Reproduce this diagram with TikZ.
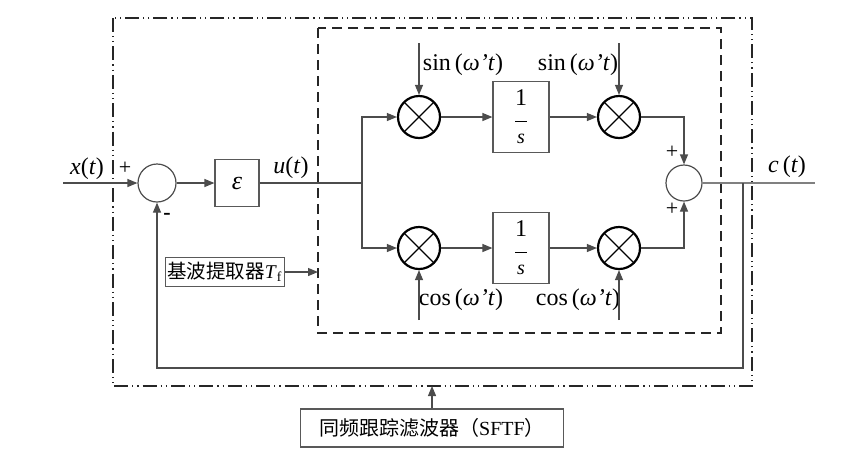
\documentclass[tikz,border=0pt]{standalone}
\usepackage{fontspec}
\setmainfont{Liberation Serif}
\newfontfamily\cjk{Noto Sans CJK SC}
\usetikzlibrary{arrows.meta,positioning}

\newcommand{\invs}{\fontsize{12}{12}\selectfont 1\\[-4pt]\rule{6pt}{0.5pt}\\[-1pt]\textit{s}}

\tikzset{
  wire/.style={draw=black!70, line width=0.6pt},
  sumnode/.style={circle, draw=black!70, line width=0.6pt, minimum size=19pt, inner sep=0pt},
  mult/.style={circle, draw=black, line width=1.1pt, minimum size=21pt, inner sep=0pt,
    path picture={\draw[line width=0.6pt]
      (path picture bounding box.north west) -- (path picture bounding box.south east)
      (path picture bounding box.north east) -- (path picture bounding box.south west);}},
  blk/.style={rectangle, draw=black!65, line width=0.6pt, inner sep=0pt},
  intblk/.style={blk, align=center, minimum width=28pt, minimum height=35.5pt},
  lbl/.style={font=\fontsize{12}{12}\selectfont, inner sep=0pt},
  sgn/.style={font=\fontsize{11}{11}\selectfont, inner sep=0pt},
}

\begin{document}
\begin{tikzpicture}[x=0.5pt,y=-0.5pt,>={Triangle[length=5pt,width=4pt]}]
      \useasboundingbox (0,0) rectangle (854,456);
      % frames
      \draw[black!85, line width=0.8pt, dash pattern=on 7pt off 2pt on 0.6pt off 2pt on 0.6pt off 2pt]
        (113,18) rectangle (752,386);
      \draw[black!85, line width=0.8pt, dash pattern=on 5pt off 3pt] (318,28) rectangle (721,333);
      % blocks
      \node (sum1) [sumnode] at (157,183) {};
      \node (eps)  [blk, minimum width=22pt, minimum height=23.5pt] at (237,183)
        {\fontsize{13}{13}\selectfont\textit{ε}};
      \node (m1) [mult] at (419,117) {};
      \node (int1) [intblk] at (521,117) {\invs};
      \node (m2) [mult] at (619,117) {};
      \node (m3) [mult] at (419,248) {};
      \node (int2) [intblk] at (521,248) {\invs};
      \node (m4) [mult] at (619,248) {};
      \node (sum2) [sumnode, minimum size=18pt] at (684,183) {};
      \node (tf) [blk, inner sep=1pt, minimum height=14.5pt] at (225,272)
        {\fontsize{9.75}{9.75}\selectfont{\cjk 基波提取器}\textit{T}\textsubscript{f}};
      \node (sftf) [blk, minimum width=131.5pt, minimum height=19pt] at (432,428)
        {\fontsize{10}{10}\selectfont{\cjk 同频跟踪滤波器（}SFTF{\cjk ）}};
      % end points
      \coordinate (xin) at (63,183);
      \coordinate (J) at (362,183);
      \coordinate (cout) at (815,183);
      \coordinate (fb) at (743,183);
      \coordinate (fbd) at (743,368);
      \coordinate (s1) at (419,43);
      \coordinate (s2) at (619,43);
      \coordinate (c1) at (419,320);
      \coordinate (c2) at (619,320);
      \coordinate (tfend) at (318,272);
      \coordinate (sfend) at (432,386);
      % labels
      \node[lbl] (xl) at (87,169) {\textit{x}(\textit{t})};
      \node[lbl] (ul) at (291,168) {\textit{u}(\textit{t})};
      \node[lbl] (cl) at (787,167) {\textit{c}\,(\textit{t})};
      \node[lbl] (sl1) at (463,65) {sin\,(\textit{ω'}\textit{t})};
      \node[lbl] (sl2) at (578,65) {sin\,(\textit{ω'}\textit{t})};
      \node[lbl] (cl1) at (461,300) {cos\,(\textit{ω'}\textit{t})};
      \node[lbl] (cl2) at (578,300) {cos\,(\textit{ω'}\textit{t})};
      \node[sgn] (p1) at (125,168) {+};
      \node[sgn] (n1) at (167,216) {\textbf{-}};
      \node[sgn] (p2) at (672,152) {+};
      \node[sgn] (p3) at (672,209) {+};
      % connectors
      \draw[wire,->] (xin) -- (sum1);
      \draw[wire,->] (sum1) -- (eps);
      \draw[wire] (eps) -- (J);
      \draw[wire,->] (J) |- (m1);
      \draw[wire,->] (J) |- (m3);
      \draw[wire,->] (m1) -- (int1);
      \draw[wire,->] (int1) -- (m2);
      \draw[wire,->] (m3) -- (int2);
      \draw[wire,->] (int2) -- (m4);
      \draw[wire,->] (s1) -- (m1);
      \draw[wire,->] (s2) -- (m2);
      \draw[wire,->] (c1) -- (m3);
      \draw[wire,->] (c2) -- (m4);
      \draw[wire,->] (m2) -| (sum2);
      \draw[wire,->] (m4) -| (sum2);
      \draw[draw=black!50, line width=0.8pt] (sum2) -- (cout);
      \draw[wire,->] (fb) -- (fbd) -| (sum1);
      \draw[wire,->] (tf) -- (tfend);
      \draw[wire,->] (sftf) -- (sfend);
\end{tikzpicture}
\end{document}
